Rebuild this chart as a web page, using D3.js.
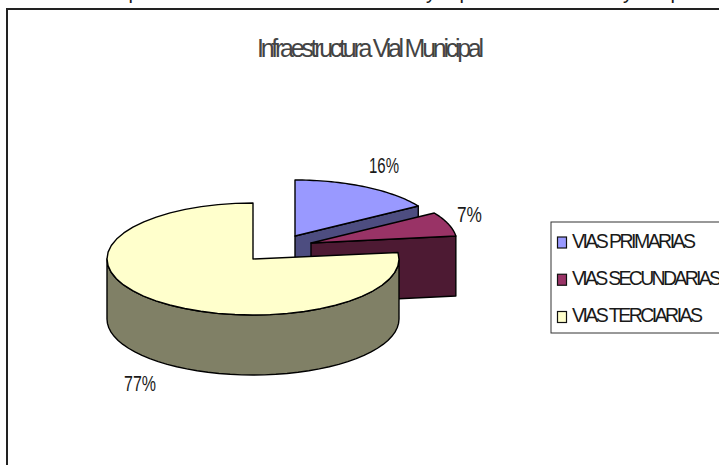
<!DOCTYPE html>
<html><head><meta charset="utf-8">
<script src="https://cdn.jsdelivr.net/npm/d3@7/dist/d3.min.js"></script>
<style>html,body{margin:0;padding:0;background:#fff}svg{display:block}text{font-family:"Liberation Sans",Arial,sans-serif;fill:#1a1a1a}</style>
</head><body><svg id="c" width="719" height="465"></svg>
<script>
const categories=["VIAS PRIMARIAS","VIAS SECUNDARIAS","VIAS TERCIARIAS"];
const legendWidths=[124,150,131];
const values=[16,7,77];
const labels=["16%","7%","77%"];
const labelWidths=[30,25,32];
const topColors=["#9999FF","#993366","#FFFFCC"];
const sideColors=["#4D4D80","#4D1A33","#808066"];
const centers=[[295,236],[311,243],[253,259]];
const labelPos=[[369,173],[457,222],[124,391]];
const clippedGlyphs=[["p",134],["y",431],["p",465],["y",628],["p",676]];
const rx=146,ry=56,depth=60;
const svg=d3.select("#c");
clippedGlyphs.forEach(([t,x])=>svg.append("text").attr("x",x).attr("y",-1).attr("text-anchor","middle").attr("font-size",20).text(t));
svg.append("rect").attr("x",7).attr("y",9).attr("width",730).attr("height",480).attr("fill","#fff").attr("stroke","#222").attr("stroke-width",2);
svg.append("text").attr("x",257).attr("y",56.5).attr("font-size",25).attr("textLength",227).attr("lengthAdjust","spacing").style("fill","#444").text("Infraestructura Vial Municipal");
const arcs=d3.pie().sort(null)(values);
const pt=(c,a,dy=0)=>[c[0]+rx*Math.sin(a),c[1]-ry*Math.cos(a)+dy];
const line=d3.line();
const rim=(c,a0,a1,dy=0)=>d3.range(0,41).map(i=>pt(c,a0+(a1-a0)*i/40,dy));
arcs.forEach((d,i)=>{
  const c=centers[i],a0=d.startAngle+(i==2?0.01:0),a1=d.endAngle;
  const g=svg.append("g").attr("stroke","#000").attr("stroke-width",1.4).attr("stroke-linejoin","round");
  if(i==2){
    g.append("path").attr("fill",sideColors[i]).attr("d",line([...rim(c,Math.PI/2,Math.PI*1.5),...rim(c,Math.PI/2,Math.PI*1.5,depth).reverse()])+"Z");
  } else {
    const p=pt(c,a1);
    g.append("path").attr("fill",sideColors[i]).attr("d",line([c,p,[p[0],p[1]+depth],[c[0],c[1]+depth]])+"Z");
  }
  g.append("path").attr("fill",topColors[i]).attr("d",line([c,...rim(c,a0,a1)])+"Z");
});
labels.forEach((t,i)=>svg.append("text").attr("x",labelPos[i][0]).attr("y",labelPos[i][1]).attr("font-size",22).attr("textLength",labelWidths[i]).attr("lengthAdjust","spacingAndGlyphs").text(t));
const lx=551,ly=222;
svg.append("rect").attr("x",lx).attr("y",ly).attr("width",190).attr("height",111).attr("fill","#fff").attr("stroke","#333").attr("stroke-width",1);
const ys=d3.scalePoint().domain(categories).range([ly+20.5,ly+95]);
categories.forEach((n,i)=>{
  svg.append("rect").attr("x",lx+6.5).attr("y",ys(n)-5.5).attr("width",9).attr("height",11).attr("fill",topColors[i]).attr("stroke","#111").attr("stroke-width",1.2);
  svg.append("text").attr("x",lx+21).attr("y",ys(n)+5).attr("font-size",19.5).attr("textLength",legendWidths[i]).attr("lengthAdjust","spacing").text(n);
});
</script></body></html>
